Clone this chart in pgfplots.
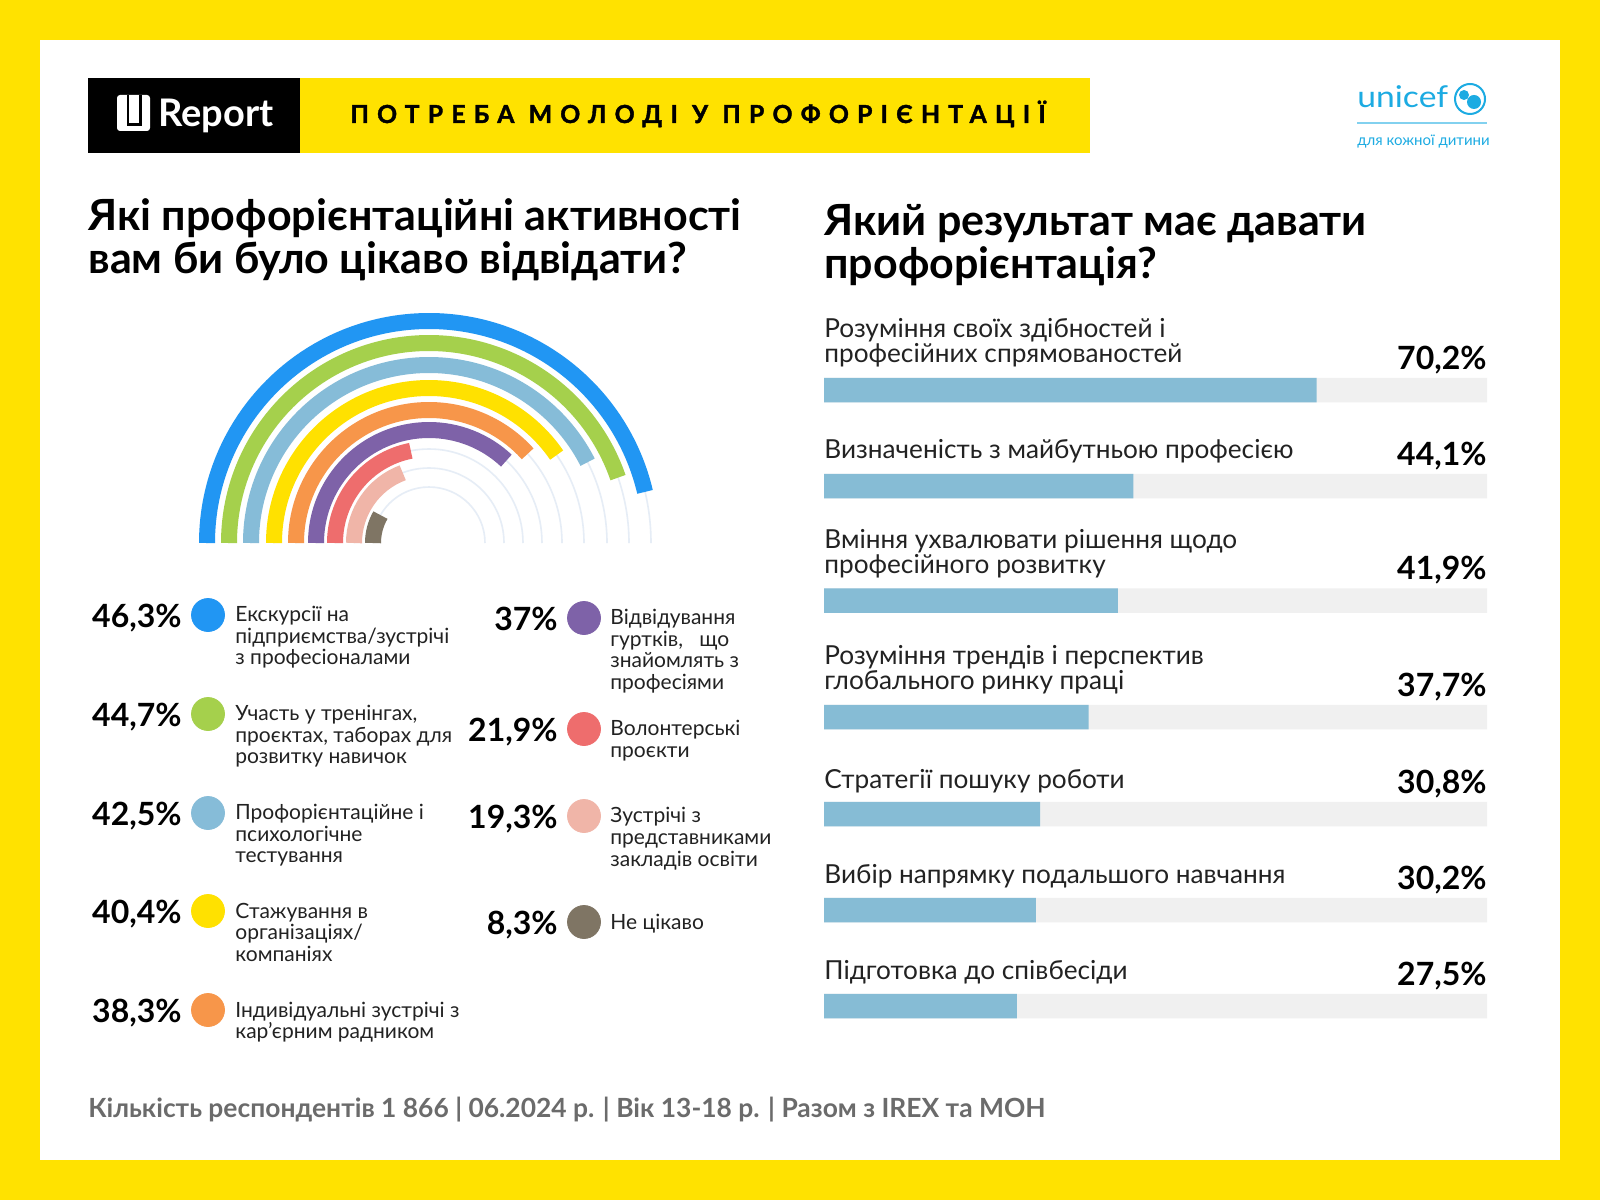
\documentclass[border=0pt]{standalone}
\usepackage{fontspec}
\setmainfont{Lato}
\newfontfamily\hdrfont[LetterSpace=33, FakeBold=1.5]{Lato}
\newfontfamily\unifont[FakeStretch=1.12]{Lato}
\usepackage{pgfplots}
\usepackage{pgfplotstable}
\pgfplotsset{compat=1.18}

\definecolor{frameY}{HTML}{FFE200}
\definecolor{cBlue}{HTML}{2196F3}
\definecolor{cGreen}{HTML}{A5D04C}
\definecolor{cLBlue}{HTML}{86BCD8}
\definecolor{cYellow}{HTML}{FFE100}
\definecolor{cOrange}{HTML}{F7964A}
\definecolor{cPurple}{HTML}{7E62A8}
\definecolor{cRed}{HTML}{EE6D6D}
\definecolor{cPink}{HTML}{F0B5A8}
\definecolor{cGrey}{HTML}{7F7564}
\definecolor{barC}{HTML}{86BCD5}
\definecolor{trackC}{HTML}{F0F0F0}
\definecolor{ringC}{HTML}{E6EDF6}
\definecolor{uniC}{HTML}{1CABE2}
\definecolor{footC}{HTML}{6B6B6B}
\definecolor{txtC}{HTML}{222222}

% activities: share (%), ring radius (px), legend dot position (px)
\pgfplotstableread{
key v r lx ly
exc 46.3 222 208 615
trn 44.7 200 208 714
tst 42.5 178 208 813
stg 40.4 155 208 911
ind 38.3 133 208 1010
grt 37.0 113 584 618
vol 21.9 94 584 729
zus 19.3 75 584 816
ne 8.3 56 584 922
}\activities

% expected results: bar centre (px), share (%)
\pgfplotstableread{
y v
390 70.2
486 44.1
600.5 41.9
717 37.7
814 30.8
910 30.2
1006 27.5
}\results

% arc of a ring: 100% = full circle
\pgfdeclareplotmark{ring}{%
  \pgfmathsetmacro\ringend{180-3.6*\ringval}%
  \pgfmathsetmacro\ringrad{0.5*\ringr}%
  \pgfsetlinewidth{8pt}\pgfsetbuttcap
  \pgfpathmoveto{\pgfpointorigin}%
  \pgfpatharc{180}{\ringend}{\ringrad pt}%
  \pgfusepath{stroke}}
\pgfdeclareplotmark{ringtrack}{%
  \pgfmathsetmacro\ringrad{0.5*\ringr}%
  \pgfsetlinewidth{0.8pt}%
  \pgfpathmoveto{\pgfpointorigin}%
  \pgfpatharc{180}{0}{\ringrad pt}%
  \pgfusepath{stroke}}

\pgfplotsset{actclasses/.style={scatter/classes={
  exc={draw=cBlue, fill=cBlue}, trn={draw=cGreen, fill=cGreen},
  tst={draw=cLBlue, fill=cLBlue}, stg={draw=cYellow, fill=cYellow},
  ind={draw=cOrange, fill=cOrange}, grt={draw=cPurple, fill=cPurple},
  vol={draw=cRed, fill=cRed}, zus={draw=cPink, fill=cPink},
  ne={draw=cGrey, fill=cGrey}}}}

\tikzset{
  ttl/.style={font=\fontsize{21.5}{21.5}\bfseries\selectfont, text=black},
  leg/.style={font=\fontsize{10.5}{11}\selectfont, text=txtC},
  lab/.style={font=\fontsize{13.1}{14}\selectfont, text=txtC},
  pct/.style={font=\fontsize{16}{16}\bfseries\selectfont, text=black, inner sep=0pt},
}
\newcommand\txtlines[5]{%
  \foreach \t [count=\i from 0] in {#5}{%
    \node[anchor=base west, inner sep=0, #4] at (#1, {#2+\i*#3}) {\t};}}

\begin{document}
\begin{tikzpicture}
\begin{scope}[x=0.5pt, y=-0.5pt, yshift=600pt]
  \fill[frameY] (0,0) rectangle (1600,1200);
  \fill[white] (40,40) rectangle (1560,1160);
  % header
  \fill[black] (88,78) rectangle (300,153);
  \fill[frameY] (300,78) rectangle (1090,153);
  \fill[white, rounded corners=1.5pt] (117,95) rectangle (150,131);
  \draw[black, line width=1.4pt] (128,95) -- (128,124.5) -- (140.5,124.5) -- (140.5,95);
  \node[anchor=base west, inner sep=0, text=white, font=\fontsize{19}{19}\bfseries\selectfont] at (158,127) {Report};
  \node[anchor=base west, inner sep=0, font=\hdrfont\fontsize{12.4}{12.4}\bfseries\selectfont] at (350,123) {ПОТРЕБА МОЛОДІ У ПРОФОРІЄНТАЦІЇ};
  % unicef
  \node[anchor=base west, inner sep=0, text=uniC, font=\unifont\fontsize{15}{15}\selectfont] at (1357,108) {unicef};
  \draw[uniC, line width=1pt] (1470,99) circle (7.5pt);
  \fill[uniC] (1464,95) circle (2.5pt);
  \fill[uniC] (1474,102) circle (3.5pt);
  \draw[uniC!55, line width=0.6pt] (1357,123) -- (1487,123);
  \node[anchor=base west, inner sep=0, text=uniC, font=\fontsize{7.5}{7.5}\selectfont] at (1357,146) {для кожної дитини};
  % titles
  \txtlines{88}{231}{43}{ttl}{{Які профорієнтаційні активності},{вам би було цікаво відвідати?}}
  \txtlines{824}{236}{43}{ttl}{{Який результат має давати},{профорієнтація?}}
  % legend texts
  \txtlines{235}{622}{21.5}{leg}{{Екскурсії на},{підприємства/зустрічі},{з професіоналами}}
  \txtlines{235}{721}{21.5}{leg}{{Участь у тренінгах,},{проєктах, таборах для},{розвитку навичок}}
  \txtlines{235}{820}{21.5}{leg}{{Профорієнтаційне і},{психологічне},{тестування}}
  \txtlines{235}{918}{21.5}{leg}{{Стажування в},{організаціях/},{компаніях}}
  \txtlines{235}{1017}{21.5}{leg}{{Індивідуальні зустрічі з},{кар'єрним радником}}
  \txtlines{610}{625}{21.5}{leg}{{Відвідування},{гуртків,\ \ \ що},{знайомлять з},{професіями}}
  \txtlines{610}{736}{21.5}{leg}{{Волонтерські},{проєкти}}
  \txtlines{610}{823}{21.5}{leg}{{Зустрічі з},{представниками},{закладів освіти}}
  \txtlines{610}{929}{21.5}{leg}{{Не цікаво}}
  % bar labels
  \txtlines{824}{338}{25}{lab}{{Розуміння своїх здібностей і},{професійних спрямованостей}}
  \txtlines{824}{459}{25}{lab}{{Визначеність з майбутньою професією}}
  \txtlines{824}{548.5}{25}{lab}{{Вміння ухвалювати рішення щодо},{професійного розвитку}}
  \txtlines{824}{665}{25}{lab}{{Розуміння трендів і перспектив},{глобального ринку праці}}
  \txtlines{824}{789}{25}{lab}{{Стратегії пошуку роботи}}
  \txtlines{824}{883}{25}{lab}{{Вибір напрямку подальшого навчання}}
  \txtlines{824}{979}{25}{lab}{{Підготовка до співбесіди}}
  % footer
  \node[anchor=base west, inner sep=0, font=\fontsize{13.2}{13.2}\bfseries\selectfont, text=footC] at (88,1117)
    {Кількість респондентів 1 866 | 06.2024 р. | Вік 13-18 р. | Разом з IREX та МОН};
\end{scope}

% rings and legend dots (axis in pixel units)
\begin{axis}[at={(0pt,0pt)}, anchor=south west, x=0.5pt, y=0.5pt, y dir=reverse,
  xmin=0, xmax=1600, ymin=0, ymax=1200, hide axis, clip=false]
  \addplot[only marks, mark=ringtrack, ringC,
    visualization depends on={\thisrow{r}\as\ringr}]
    table[x expr=429-\thisrow{r}, y expr=543]{\activities};
  \addplot[scatter, only marks, mark=ring, actclasses,
    point meta=explicit symbolic,
    visualization depends on={\thisrow{v}\as\ringval},
    visualization depends on={\thisrow{r}\as\ringr}]
    table[x expr=429-\thisrow{r}, y expr=543, meta=key]{\activities};
  \addplot[scatter, only marks, mark=*, mark size=8.25pt, actclasses,
    point meta=explicit symbolic]
    table[x=lx, y=ly, meta=key]{\activities};
  \addplot[sharp plot, draw=none, point meta=explicit,
    nodes near coords={\pgfmathprintnumber[assume math mode=true,use comma,fixed,precision=1]{\pgfplotspointmeta}\%},
    every node near coord/.append style={anchor=base east, xshift=-13pt, yshift=-6pt, pct}]
    table[x=lx, y=ly, meta=v]{\activities};
\end{axis}

% horizontal bars
\begin{axis}[at={(412pt,0pt)}, anchor=south west, x=3.508pt, y=0.5pt, y dir=reverse,
  xmin=0, xmax=94.5, ymin=0, ymax=1200, hide axis, clip=false,
  xbar, bar width=12.25pt, bar shift=0pt]
  \addplot[fill=trackC, draw=none] table[x expr=94.5, y=y]{\results};
  \addplot[fill=barC, draw=none] table[x=v, y=y]{\results};
  \addplot[sharp plot, draw=none, point meta=explicit,
    nodes near coords={\pgfmathprintnumber[assume math mode=true,use comma,fixed,fixed zerofill,precision=1]{\pgfplotspointmeta}\%},
    every node near coord/.append style={anchor=base east, yshift=10.5pt, pct}]
    table[x expr=94.5, y=y, meta=v]{\results};
\end{axis}
\end{tikzpicture}
\end{document}
